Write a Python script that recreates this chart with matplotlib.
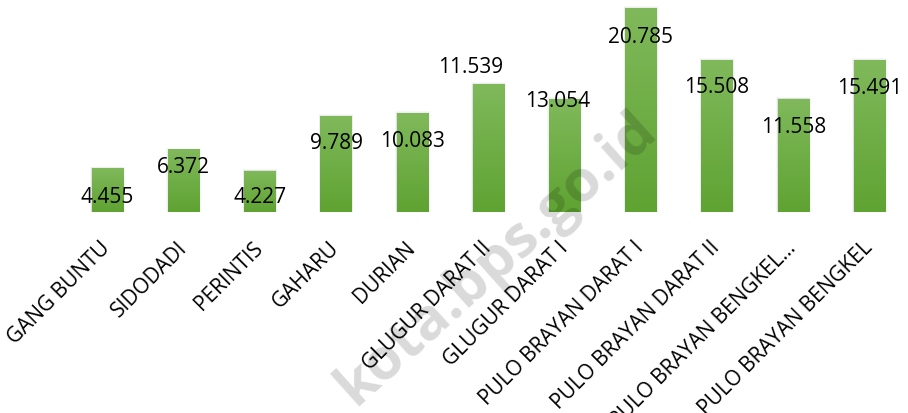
import numpy as np
import matplotlib
matplotlib.use("Agg")
import matplotlib.pyplot as plt
from matplotlib.transforms import ScaledTranslation
from matplotlib.patches import Rectangle

categories = ["GANG BUNTU", "SIDODADI", "PERINTIS", "GAHARU", "DURIAN",
              "GLUGUR DARAT II", "GLUGUR DARAT I", "PULO BRAYAN DARAT I",
              "PULO BRAYAN DARAT II", "PULO BRAYAN BENGKEL...", "PULO BRAYAN BENGKEL"]
# bar heights as drawn in the reference
values = [4.455, 6.372, 4.227, 9.789, 10.083, 13.054, 11.539, 20.785, 15.508, 11.558, 15.491]
# data label texts as shown in the reference
value_labels = ["4.455", "6.372", "4.227", "9.789", "10.083", "11.539", "13.054",
                "20.785", "15.508", "11.558", "15.491"]

# label placement (data-unit offsets from bar top, category-unit x shifts)
label_dy = [-2.93, -1.79, -2.80, -2.76, -2.85, 1.62, -0.23, -2.96, -2.87, -2.90, -2.86]
label_dx = [0, 0, 0, 0, 0, -0.24, -0.09, 0, 0, 0, 0]

W, H, DPI = 908, 413, 100
fig = plt.figure(figsize=(W / DPI, H / DPI), dpi=DPI)
fig.patch.set_facecolor("white")
ax = fig.add_axes([69.4 / W, 1 - 212 / H, (907.6 - 69.4) / W, 212 / H])
ax.set_xlim(-0.5, len(categories) - 0.5)
ax.set_ylim(0, 21.6)
ax.axis("off")

# watermark: translucent, over the bars, under the texts
ax.text(497 / W, 1 - 259 / H, "kota.bps.go.id", fontsize=42, fontweight="bold",
        family="Open Sans", color="black", alpha=0.15, rotation=42, ha="center",
        va="center", transform=fig.transFigure, clip_on=False, zorder=4)

x = np.arange(len(categories))
bw = 0.41
grad = np.linspace(0, 1, 256).reshape(-1, 1)
cmap = matplotlib.colors.LinearSegmentedColormap.from_list("g", ["#5fa332", "#80b95b"])
for i, v in enumerate(values):
    # soft shadow
    for k, a in enumerate([0.05, 0.04, 0.03]):
        s = (k + 1) * 0.012
        ax.add_patch(Rectangle((i - bw / 2 - s * 0.6, -0.05), bw + 2 * s * 0.6, v + s * 6,
                               facecolor="black", alpha=a, edgecolor="none", zorder=1,
                               clip_on=False))
    bars = ax.bar(i, v, width=bw, color="#6aac43", edgecolor="none", zorder=2)
    patch = bars.patches[0]
    im = ax.imshow(grad, extent=[i - bw / 2, i + bw / 2, 0, v], origin="lower",
                   aspect="auto", cmap=cmap, zorder=3)
    im.set_clip_path(patch)
    ax.text(i + label_dx[i], v + label_dy[i], value_labels[i], ha="center", va="center",
            fontsize=15, family="Open Sans", color="#000000", zorder=5)

ax.set_xlim(-0.5, len(categories) - 0.5)
ax.set_ylim(0, 21.6)

for i, c in enumerate(categories):
    t = ax.text(i, 0, c, rotation=45, rotation_mode="anchor", ha="right", va="center",
                fontsize=15, family="Open Sans", color="#000000", zorder=5, clip_on=False)
    t.set_transform(ax.transData + ScaledTranslation(0 / DPI, -33 / DPI, fig.dpi_scale_trans))

fig.savefig("out.png", dpi=DPI, facecolor="white")
